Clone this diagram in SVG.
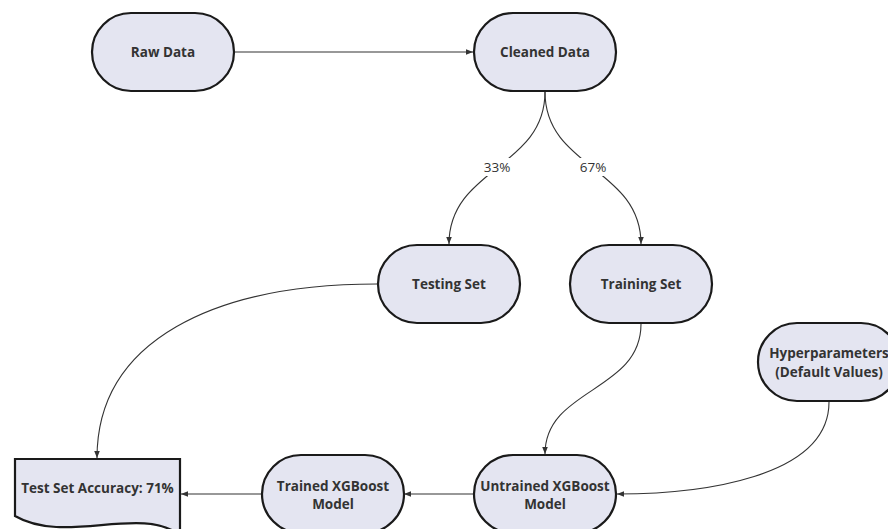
<svg xmlns="http://www.w3.org/2000/svg" width="888" height="529" viewBox="0 0 888 529">
<defs>
<style>
.node{fill:#e4e5f1;stroke:#1a1a1a;stroke-width:2.2}
.t{font-family:"Open Sans","Liberation Sans",sans-serif;font-weight:bold;font-size:13.5px;fill:#333;text-anchor:middle}
.lbl{font-family:"Open Sans","Liberation Sans",sans-serif;font-size:13.5px;fill:#333;text-anchor:middle}
.edge{fill:none;stroke:#333;stroke-width:1.1;marker-end:url(#ah)}
</style>
<marker id="ah" viewBox="0 0 10 10" refX="10" refY="5" markerWidth="7" markerHeight="7" markerUnits="userSpaceOnUse" orient="auto">
<path d="M0,1 L10,5 L0,9 Z" fill="#333"/>
</marker>
</defs>
<rect width="888" height="529" fill="#fff"/>
<g id="connectors">
<path class="edge" d="M234,52 H473"/>
<path class="edge" d="M545,92 C545,168 449,168 449,244"/>
<path class="edge" d="M545,92 C545,168 641,168 641,244"/>
<path class="edge" d="M641,324 C641,392 545,388 545,454"/>
<path class="edge" d="M829,402 C829,478 700,494 617,494"/>
<path class="edge" d="M377,284 C215,284 97,340 97,458"/>
<path class="edge" d="M473,494 H404"/>
<path class="edge" d="M261,494 H181"/>
<rect x="483" y="158" width="28" height="18" fill="#fff"/>
<text class="lbl" x="497" y="172">33%</text>
<rect x="579" y="158" width="28" height="18" fill="#fff"/>
<text class="lbl" x="593" y="172">67%</text>
</g>
<g id="raw-data">
<rect class="node" x="92" y="13" width="142" height="78" rx="39"/>
<text class="t" x="163" y="57">Raw Data</text>
</g>
<g id="cleaned-data">
<rect class="node" x="474" y="13" width="142" height="78" rx="39"/>
<text class="t" x="545" y="57">Cleaned Data</text>
</g>
<g id="testing-set">
<rect class="node" x="378" y="245" width="142" height="78" rx="39"/>
<text class="t" x="449" y="289">Testing Set</text>
</g>
<g id="training-set">
<rect class="node" x="570" y="245" width="142" height="78" rx="39"/>
<text class="t" x="641" y="289">Training Set</text>
</g>
<g id="hyperparameters">
<rect class="node" x="758" y="323" width="142" height="78" rx="39"/>
<text class="t" x="829" y="358">Hyperparameters</text>
<text class="t" x="829" y="377">(Default Values)</text>
</g>
<g id="untrained-model">
<rect class="node" x="474" y="455" width="142" height="78" rx="39"/>
<text class="t" x="545" y="491">Untrained XGBoost</text>
<text class="t" x="545" y="509">Model</text>
</g>
<g id="trained-model">
<rect class="node" x="262" y="455" width="142" height="78" rx="39"/>
<text class="t" x="333" y="491">Trained XGBoost</text>
<text class="t" x="333" y="509">Model</text>
</g>
<g id="test-accuracy">
<path class="node" d="M15,459 H180 V535 C140,505 65,545 15,516 Z"/>
<text class="t" x="97.5" y="493">Test Set Accuracy: 71%</text>
</g>
</svg>
